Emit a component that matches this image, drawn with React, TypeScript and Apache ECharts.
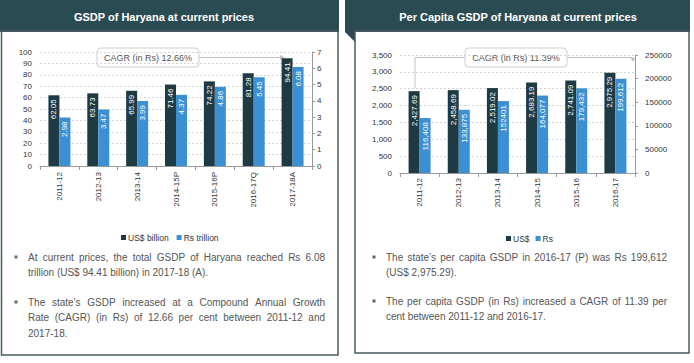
import React, { useEffect, useRef } from "react";
import * as echarts from "echarts";

// ---------- data ----------
const gsdpCategories = ["2011-12", "2012-13", "2013-14", "2014-15P", "2015-16P", "2016-17Q", "2017-18A"];
const gsdpUsdBillion = [62.05, 63.73, 65.99, 71.46, 74.22, 81.28, 94.41];
const gsdpRsTrillion = [2.98, 3.47, 3.99, 4.37, 4.86, 5.45, 6.08];
const gsdpUsdLabels = ["62.05", "63.73", "65.99", "71.46", "74.22", "81.28", "94.41"];
const gsdpRsLabels = ["2.98", "3.47", "3.99", "4.37", "4.86", "5.45", "6.08"];

const pcCategories = ["2011-12", "2012-13", "2013-14", "2014-15", "2015-16", "2016-17"];
const pcUsd = [2427.69, 2458.69, 2519.02, 2683.19, 2741.09, 2975.29];
const pcRs = [116408, 133875, 152401, 164077, 179432, 199612];
const pcUsdLabels = ["2,427.69", "2,458.69", "2,519.02", "2,683.19", "2,741.09", "2,975.29"];
const pcRsLabels = ["116,408", "133,875", "152401", "164,077", "179,432", "199,612"];

const leftTitle = "GSDP of Haryana at current prices";
const rightTitle = "Per Capita GSDP of Haryana at current prices";
const leftCagr = "CAGR (in Rs) 12.66%";
const rightCagr = "CAGR (in Rs) 11.39%";

const leftParagraphs = [
  ["At current prices, the total GSDP of Haryana reached Rs 6.08", "trillion (US$ 94.41 billion) in 2017-18 (A)."],
  [
    "The state\u2019s GSDP increased at a Compound Annual Growth",
    "Rate (CAGR) (in Rs) of 12.66 per cent between 2011-12 and",
    "2017-18.",
  ],
];
const rightParagraphs = [
  ["The state\u2019s per capita GSDP in 2016-17 (P) was Rs 199,612", "(US$ 2,975.29)."],
  ["The per capita GSDP (in Rs) increased a CAGR of 11.39 per", "cent between 2011-12 and 2016-17."],
];

// ---------- styles ----------
const FONT = "Liberation Sans";
const BODY_FONT = '"Liberation Sans Narrow", "Liberation Sans"';
const HEADER = "#2B4B53";
const BORDER = "#4A5C62";
const DARK = "#1E3A43";
const BLUE = "#3A90D3";
const AXIS = "#9A9A9A";
const TEXT = "#555555";
const BODY_SIZE = 10;

function measure(text: string, size: number): number {
  const c = document.createElement("canvas").getContext("2d");
  if (!c) return text.length * size * 0.5;
  c.font = `${size}px ${BODY_FONT}`;
  return c.measureText(text).width;
}

function lineElements(text: string, x0: number, x1: number, y: number, justify: boolean): any[] {
  const style = { fill: TEXT, fontSize: BODY_SIZE, fontFamily: BODY_FONT, verticalAlign: "middle", align: "left" };
  if (!justify) return [{ type: "text", x: x0, y, silent: true, style: { ...style, text } }];
  const words = text.split(" ");
  const widths = words.map((w) => measure(w, BODY_SIZE));
  const total = widths.reduce((a, b) => a + b, 0);
  const gap = (x1 - x0 - total) / Math.max(1, words.length - 1);
  let x = x0;
  return words.map((w, i) => {
    const el = { type: "text", x, y, silent: true, style: { ...style, text: w } };
    x += widths[i] + gap;
    return el;
  });
}

function paragraphElements(paras: string[][], bulletX: number, x0: number, x1: number, ys: number[][]): any[] {
  const out: any[] = [];
  paras.forEach((lines, pi) => {
    out.push({
      type: "rect",
      silent: true,
      shape: { x: bulletX, y: ys[pi][0] - 1.5, width: 3, height: 3 },
      style: { fill: "#666" },
    });
    lines.forEach((ln, li) => {
      out.push(...lineElements(ln, x0, x1, ys[pi][li], li < lines.length - 1));
    });
  });
  return out;
}

function barLabel(labels: string[]) {
  return {
    show: true,
    position: "insideTop",
    rotate: 90,
    align: "right",
    verticalAlign: "middle",
    distance: 4,
    color: "#ffffff",
    fontSize: 8,
    fontFamily: FONT,
    formatter: (p: any) => labels[p.dataIndex],
  };
}

export default function App() {
  const ref = useRef<HTMLDivElement>(null);

  useEffect(() => {
    if (!ref.current) return;
    const chart = echarts.init(ref.current, undefined, { renderer: "svg" });

    const axisLabel = { fontSize: 8, color: "#333", fontFamily: FONT };

    const graphic: any[] = [
      // headers
      { type: "rect", silent: true, shape: { x: 0, y: 0, width: 339, height: 32 }, style: { fill: HEADER } },
      { type: "rect", silent: true, shape: { x: 345, y: 0, width: 345, height: 32 }, style: { fill: HEADER } },
      { type: "polygon", silent: true, shape: { points: [[345, 32], [355, 32], [355, 42]] }, style: { fill: HEADER } },
      {
        type: "text",
        silent: true,
        x: 164,
        y: 17,
        style: { text: leftTitle, fill: "#fff", fontSize: 11, fontWeight: "bold", fontFamily: FONT, align: "center", verticalAlign: "middle" },
      },
      {
        type: "text",
        silent: true,
        x: 518,
        y: 17,
        style: { text: rightTitle, fill: "#fff", fontSize: 11, fontWeight: "bold", fontFamily: FONT, align: "center", verticalAlign: "middle" },
      },
      // body borders
      { type: "rect", silent: true, shape: { x: 1.5, y: 31, width: 336.5, height: 324 }, style: { fill: "none", stroke: BORDER, lineWidth: 1.5 } },
      { type: "rect", silent: true, shape: { x: 355, y: 31, width: 334, height: 322 }, style: { fill: "none", stroke: BORDER, lineWidth: 1.5 } },
      // CAGR annotations left
      { type: "line", silent: true, shape: { x1: 199, y1: 57.5, x2: 281, y2: 57.5 }, style: { stroke: "#c4c4c4", lineWidth: 1 } },
      { type: "polygon", silent: true, shape: { points: [[280, 55], [285, 57.5], [280, 60]] }, style: { fill: "#c4c4c4" } },
      { type: "rect", silent: true, shape: { x: 97, y: 48, width: 102, height: 19, r: 4 }, style: { fill: "#fff", stroke: "#cfcfcf", lineWidth: 1 } },
      {
        type: "text",
        silent: true,
        x: 148,
        y: 57.5,
        style: { text: leftCagr, fill: TEXT, fontSize: 9, fontFamily: FONT, align: "center", verticalAlign: "middle" },
      },
      // CAGR annotations right
      { type: "polyline", silent: true, shape: { points: [[415, 88], [415, 57.5], [465, 57.5]] }, style: { stroke: "#c4c4c4", lineWidth: 1, fill: "none" } },
      { type: "polyline", silent: true, shape: { points: [[567, 57.5], [633, 57.5], [633, 60]] }, style: { stroke: "#c4c4c4", lineWidth: 1, fill: "none" } },
      { type: "polygon", silent: true, shape: { points: [[630.5, 58], [635.5, 58], [633, 62]] }, style: { fill: "#c4c4c4" } },
      { type: "rect", silent: true, shape: { x: 465, y: 48, width: 102, height: 19, r: 4 }, style: { fill: "#fff", stroke: "#cfcfcf", lineWidth: 1 } },
      {
        type: "text",
        silent: true,
        x: 516,
        y: 57.5,
        style: { text: rightCagr, fill: TEXT, fontSize: 9, fontFamily: FONT, align: "center", verticalAlign: "middle" },
      },
      // body texts
      ...paragraphElements(leftParagraphs, 14.5, 28, 325, [[257, 272], [302, 317, 333]]),
      ...paragraphElements(rightParagraphs, 372.5, 386, 667, [[257, 272], [301, 316]]),
    ];

    const option: any = {
      animation: false,
      backgroundColor: "#ffffff",
      textStyle: { fontFamily: FONT },
      grid: [
        { left: 40, right: 382, top: 52, bottom: 197 },
        { left: 400, right: 59, top: 55, bottom: 190 },
      ],
      legend: [
        {
          data: ["US$ billion", "Rs trillion"],
          left: 116,
          top: 228,
          icon: "rect",
          itemWidth: 5,
          itemHeight: 5,
          itemGap: 8,
          textStyle: { fontSize: 8.5, color: "#333", fontFamily: FONT, padding: [0, 0, 0, -3] },
        },
        {
          data: ["US$", "Rs"],
          left: 501,
          top: 229,
          icon: "rect",
          itemWidth: 5,
          itemHeight: 5,
          itemGap: 6,
          textStyle: { fontSize: 8.5, color: "#333", fontFamily: FONT, padding: [0, 0, 0, -3] },
        },
      ],
      xAxis: [
        {
          type: "category",
          gridIndex: 0,
          data: gsdpCategories,
          axisLine: { lineStyle: { color: AXIS } },
          axisTick: { show: true, length: 4, lineStyle: { color: AXIS } },
          axisLabel: { ...axisLabel, rotate: 90, margin: 6 },
        },
        {
          type: "category",
          gridIndex: 1,
          data: pcCategories,
          axisLine: { lineStyle: { color: AXIS } },
          axisTick: { show: true, length: 4, lineStyle: { color: AXIS } },
          axisLabel: { ...axisLabel, rotate: 90, margin: 5 },
        },
      ],
      yAxis: [
        {
          type: "value",
          gridIndex: 0,
          position: "left",
          min: 0,
          max: 100,
          interval: 10,
          axisLine: { show: false },
          axisTick: { show: false },
          axisLabel: { ...axisLabel, margin: 8 },
          splitLine: { show: true, lineStyle: { color: "#c8c8c8", type: [2, 2], width: 0.8 } },
        },
        {
          type: "value",
          gridIndex: 0,
          position: "right",
          min: 0,
          max: 7,
          interval: 1,
          axisLine: { show: true, lineStyle: { color: AXIS } },
          axisTick: { show: true, length: 3, lineStyle: { color: AXIS } },
          axisLabel: { ...axisLabel, margin: 5 },
          splitLine: { show: false },
        },
        {
          type: "value",
          gridIndex: 1,
          position: "left",
          min: 0,
          max: 3500,
          interval: 500,
          axisLine: { show: false },
          axisTick: { show: false },
          axisLabel: { ...axisLabel, margin: 8, formatter: (v: number) => v.toLocaleString("en-US") },
          splitLine: { show: true, lineStyle: { color: "#c8c8c8", type: [2, 2], width: 0.8 } },
        },
        {
          type: "value",
          gridIndex: 1,
          position: "right",
          min: 0,
          max: 250000,
          interval: 50000,
          axisLine: { show: true, lineStyle: { color: AXIS } },
          axisTick: { show: true, length: 3, lineStyle: { color: AXIS } },
          axisLabel: { ...axisLabel, margin: 10, formatter: (v: number) => String(v) },
          splitLine: { show: false },
        },
      ],
      series: [
        {
          name: "US$ billion",
          type: "bar",
          xAxisIndex: 0,
          yAxisIndex: 0,
          data: gsdpUsdBillion,
          barWidth: 11,
          barGap: "0%",
          itemStyle: { color: DARK },
          label: barLabel(gsdpUsdLabels),
        },
        {
          name: "Rs trillion",
          type: "bar",
          xAxisIndex: 0,
          yAxisIndex: 1,
          data: gsdpRsTrillion,
          barWidth: 11,
          barGap: "0%",
          itemStyle: { color: BLUE },
          label: barLabel(gsdpRsLabels),
        },
        {
          name: "US$",
          type: "bar",
          xAxisIndex: 1,
          yAxisIndex: 2,
          data: pcUsd,
          barWidth: 11,
          barGap: "0%",
          itemStyle: { color: DARK },
          label: barLabel(pcUsdLabels),
        },
        {
          name: "Rs",
          type: "bar",
          xAxisIndex: 1,
          yAxisIndex: 3,
          data: pcRs,
          barWidth: 11,
          barGap: "0%",
          itemStyle: { color: BLUE },
          label: barLabel(pcRsLabels),
        },
      ],
      graphic,
    };

    chart.setOption(option);
    return () => chart.dispose();
  }, []);

  return <div ref={ref} style={{ position: "fixed", left: 0, top: 0, width: 694, height: 363 }} />;
}
